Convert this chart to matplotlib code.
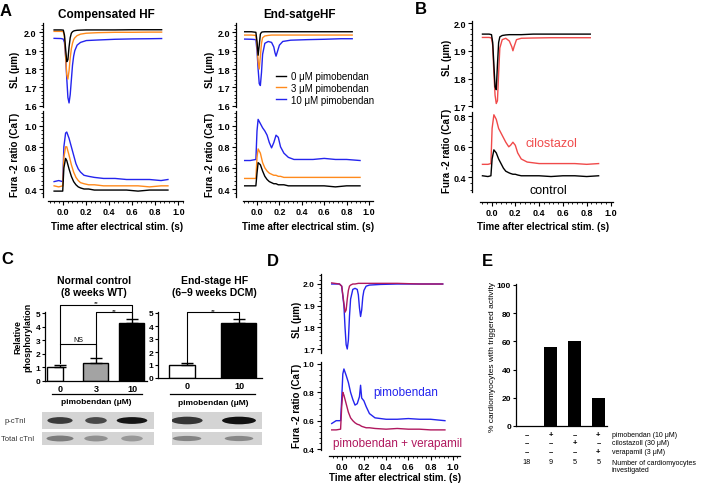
import numpy as np
import matplotlib
matplotlib.use("Agg")
import matplotlib.pyplot as plt
from matplotlib.ticker import MultipleLocator, FuncFormatter
from matplotlib.patches import Ellipse

plt.rcParams['font.family'] = ['Liberation Sans', 'DejaVu Sans']
plt.rcParams['font.weight'] = 'bold'
plt.rcParams['axes.linewidth'] = 0.9

##################################################################
############################ data ################################
##################################################################
# A - compensated HF, sarcomere length
t_sl_comp = [-0.08, -0.02, 0.0, 0.01, 0.02, 0.03, 0.04, 0.05, 0.06, 0.07, 0.08,
             0.09, 0.10, 0.12, 0.15, 0.20, 0.30, 0.45, 0.60, 0.75, 0.855]
sl_comp_0 = [2.013, 2.013, 2.012, 1.985, 1.91, 1.84, 1.85, 1.92, 1.97, 1.995, 2.003,
             2.007, 2.009, 2.011, 2.012, 2.013, 2.013, 2.013, 2.014, 2.014, 2.014]
sl_comp_3 = [2.005, 2.005, 2.004, 1.975, 1.87, 1.77, 1.745, 1.79, 1.86, 1.91, 1.94,
             1.96, 1.97, 1.982, 1.99, 1.995, 1.998, 2.0, 2.0, 2.001, 2.001]
sl_comp_10 = [1.967, 1.966, 1.963, 1.945, 1.87, 1.75, 1.645, 1.615, 1.66, 1.74, 1.82,
              1.87, 1.90, 1.93, 1.945, 1.955, 1.958, 1.962, 1.964, 1.965, 1.966]
# A - compensated HF, Fura-2
t_ca_comp = [-0.08, -0.04, -0.005, 0.005, 0.02, 0.03, 0.05, 0.07, 0.09, 0.11, 0.13,
             0.15, 0.18, 0.22, 0.27, 0.35, 0.45, 0.55, 0.65, 0.75, 0.85, 0.91]
ca_comp_0 = [0.38, 0.38, 0.38, 0.60, 0.69, 0.67, 0.59, 0.52, 0.47, 0.44, 0.42,
             0.41, 0.40, 0.40, 0.39, 0.39, 0.39, 0.39, 0.38, 0.39, 0.39, 0.39]
ca_comp_3 = [0.43, 0.42, 0.43, 0.70, 0.80, 0.80, 0.72, 0.63, 0.56, 0.51, 0.48,
             0.46, 0.45, 0.44, 0.44, 0.43, 0.43, 0.43, 0.43, 0.42, 0.43, 0.43]
ca_comp_10 = [0.47, 0.48, 0.47, 0.80, 0.93, 0.94, 0.88, 0.80, 0.72, 0.64, 0.59,
              0.56, 0.53, 0.52, 0.51, 0.50, 0.50, 0.49, 0.49, 0.49, 0.48, 0.49]

# A - end-stage HF, sarcomere length
t_sl_end = [-0.11, -0.05, -0.01, 0.0, 0.01, 0.02, 0.03, 0.04, 0.05, 0.07, 0.10, 0.13,
            0.15, 0.16, 0.17, 0.18, 0.20, 0.23, 0.30, 0.45, 0.60, 0.75, 0.85]
sl_end_0 = [2.003, 2.003, 2.0, 1.95, 1.875, 1.93, 1.99, 2.0, 2.002, 2.003, 2.003, 2.003,
            2.003, 2.003, 2.003, 2.003, 2.003, 2.003, 2.003, 2.003, 2.003, 2.003, 2.003]
sl_end_3 = [1.985, 1.985, 1.983, 1.93, 1.84, 1.80, 1.87, 1.94, 1.97, 1.98, 1.983, 1.985,
            1.985, 1.985, 1.985, 1.985, 1.985, 1.985, 1.985, 1.985, 1.985, 1.985, 1.985]
sl_end_10 = [1.963, 1.962, 1.96, 1.90, 1.80, 1.72, 1.71, 1.78, 1.88, 1.94, 1.95, 1.945,
             1.92, 1.89, 1.87, 1.89, 1.93, 1.95, 1.957, 1.96, 1.962, 1.965, 1.965]
# A - end-stage HF, Fura-2
t_ca_end = [-0.11, -0.06, -0.01, 0.0, 0.01, 0.03, 0.05, 0.07, 0.09, 0.11, 0.13, 0.15,
            0.17, 0.19, 0.21, 0.24, 0.28, 0.33, 0.40, 0.50, 0.60, 0.70, 0.80, 0.92]
ca_end_0 = [0.43, 0.43, 0.43, 0.55, 0.65, 0.63, 0.57, 0.52, 0.49, 0.47, 0.46, 0.45,
            0.45, 0.44, 0.44, 0.44, 0.43, 0.43, 0.43, 0.43, 0.43, 0.42, 0.43, 0.43]
ca_end_3 = [0.50, 0.50, 0.50, 0.70, 0.78, 0.74, 0.65, 0.60, 0.57, 0.55, 0.54, 0.53,
            0.53, 0.52, 0.52, 0.51, 0.51, 0.51, 0.51, 0.51, 0.51, 0.51, 0.51, 0.51]
ca_end_10 = [0.67, 0.67, 0.68, 0.95, 1.06, 1.02, 0.98, 0.95, 0.91, 0.84, 0.79, 0.84,
             0.91, 0.89, 0.80, 0.74, 0.70, 0.68, 0.68, 0.68, 0.69, 0.68, 0.68, 0.67]

# B - control vs cilostazol
t_sl_b = [-0.076, -0.02, 0.0, 0.01, 0.02, 0.03, 0.04, 0.05, 0.06, 0.07, 0.09, 0.12,
          0.15, 0.17, 0.18, 0.19, 0.21, 0.25, 0.35, 0.50, 0.65, 0.83]
sl_b_ctrl = [1.96, 1.96, 1.958, 1.93, 1.85, 1.77, 1.76, 1.85, 1.93, 1.95, 1.955, 1.957,
             1.958, 1.958, 1.958, 1.958, 1.958, 1.958, 1.96, 1.96, 1.96, 1.96]
sl_b_cilo = [1.948, 1.948, 1.946, 1.92, 1.82, 1.74, 1.71, 1.72, 1.82, 1.91, 1.94, 1.945,
             1.935, 1.915, 1.90, 1.915, 1.94, 1.945, 1.946, 1.947, 1.947, 1.947]
t_ca_b = [-0.076, -0.03, -0.005, 0.005, 0.02, 0.04, 0.06, 0.08, 0.10, 0.12, 0.145, 0.16,
          0.18, 0.20, 0.22, 0.25, 0.30, 0.40, 0.50, 0.60, 0.70, 0.80, 0.90]
ca_b_ctrl = [0.41, 0.405, 0.41, 0.52, 0.58, 0.56, 0.52, 0.49, 0.46, 0.44, 0.43, 0.425,
             0.42, 0.42, 0.415, 0.41, 0.41, 0.41, 0.405, 0.41, 0.41, 0.405, 0.41]
ca_b_cilo = [0.485, 0.485, 0.49, 0.72, 0.81, 0.78, 0.72, 0.69, 0.66, 0.63, 0.60, 0.61,
             0.63, 0.61, 0.56, 0.52, 0.50, 0.49, 0.49, 0.49, 0.49, 0.485, 0.49]

# C - relative phosphorylation of cTnI
wt_doses = ['0', '3', '10']
wt_phos = [1.0, 1.35, 4.25]
wt_err = [0.2, 0.35, 0.3]
dcm_doses = ['0', '10']
dcm_phos = [1.0, 4.25]
dcm_err = [0.12, 0.3]
# band darkness of the blots (0 = none, 1 = black)
wt_p_band = [0.72, 0.66, 0.9]
wt_tot_band = [0.42, 0.32, 0.28]
dcm_p_band = [0.75, 0.92]
dcm_tot_band = [0.38, 0.36]

# D - pimobendan vs pimobendan + verapamil
t_sl_d = [-0.09, -0.02, 0.0, 0.02, 0.03, 0.04, 0.05, 0.06, 0.07, 0.08, 0.10, 0.12, 0.14,
          0.15, 0.16, 0.17, 0.18, 0.19, 0.20, 0.22, 0.25, 0.35, 0.50, 0.70, 0.91]
sl_d_pimo = [2.0, 2.0, 1.99, 1.90, 1.80, 1.72, 1.70, 1.74, 1.85, 1.93, 1.975, 1.98, 1.975,
             1.95, 1.89, 1.85, 1.88, 1.94, 1.97, 1.99, 1.995, 1.998, 2.0, 2.0, 2.0]
sl_d_vera = [2.005, 2.0, 1.99, 1.91, 1.87, 1.88, 1.93, 1.97, 1.99, 1.995, 2.0, 2.0, 2.002,
             2.003, 2.003, 2.003, 2.003, 2.003, 2.003, 2.003, 2.003, 2.003, 2.003, 2.0, 2.0]
t_ca_d = [-0.09, -0.05, -0.01, 0.0, 0.01, 0.02, 0.04, 0.06, 0.08, 0.10, 0.12, 0.14, 0.16,
          0.17, 0.18, 0.20, 0.22, 0.25, 0.30, 0.40, 0.50, 0.60, 0.70, 0.80, 0.93]
ca_d_pimo = [0.58, 0.60, 0.60, 0.75, 0.93, 0.965, 0.92, 0.87, 0.80, 0.75, 0.71, 0.72, 0.77,
             0.85, 0.76, 0.74, 0.70, 0.65, 0.62, 0.61, 0.61, 0.615, 0.61, 0.61, 0.60]
ca_d_vera = [0.535, 0.535, 0.54, 0.70, 0.80, 0.78, 0.72, 0.66, 0.62, 0.60, 0.585, 0.575, 0.57,
             0.565, 0.56, 0.555, 0.55, 0.55, 0.545, 0.54, 0.545, 0.54, 0.54, 0.535, 0.535]

# E - triggered activity
e_pct = [0, 56, 60, 20]
e_pimo = ['–', '+', '–', '+']
e_cilo = ['–', '–', '+', '–']
e_vera = ['–', '–', '–', '+']
e_n = ['18', '9', '5', '5']
e_rows = ['pimobendan (10 \u03bcM)', 'cilostazoll (30 \u03bcM)', 'verapamil (3 \u03bcM)']

BLACK = '#000000'
ORANGE = '#ff8a1c'
BLUE = '#2424ee'
RED = '#f04a4a'
PURPLE = '#b0185e'

##################################################################
############################ figure ##############################
##################################################################
W, H = 708, 485
fig = plt.figure(figsize=(W / 100, H / 100), dpi=100)


def add_ax(l, t, r, b):
    # axes from pixel box (left, top, right, bottom)
    ax = fig.add_axes([l / W, 1 - b / H, (r - l) / W, (b - t) / H])
    ax.patch.set_visible(False)
    return ax


def ftext(x, y, s, **kw):
    fig.text(x / W, 1 - y / H, s, **kw)


fmt1 = FuncFormatter(lambda v, p: ('%.1f' % (v + 0.0)).replace('-0.0', '0.0'))


def trace_axes(l, r, top, bot, x0, sx, ref, ref_px, ppu, major, minor, fs=6.5):
    ax = add_ax(l, top, r, bot)
    ax.set_xlim((l - x0) / sx, (r - x0) / sx)
    ax.set_ylim(ref - (bot - ref_px) / ppu, ref + (ref_px - top) / ppu)
    for s in ['top', 'right', 'bottom']:
        ax.spines[s].set_visible(False)
    ax.set_xticks([])
    ax.yaxis.set_major_locator(MultipleLocator(major))
    ax.yaxis.set_minor_locator(MultipleLocator(minor))
    ax.yaxis.set_major_formatter(fmt1)
    ax.tick_params(axis='y', which='major', length=3, width=0.8, labelsize=fs, pad=1.5)
    ax.tick_params(axis='y', which='minor', length=1.5, width=0.6)
    return ax


def time_axis(l, r, y, x0, sx):
    ax = add_ax(l, y - 8, r, y)
    ax.set_xlim((l - x0) / sx, (r - x0) / sx)
    for s in ['top', 'right', 'left']:
        ax.spines[s].set_visible(False)
    ax.set_yticks([])
    ax.xaxis.set_major_locator(MultipleLocator(0.2))
    ax.xaxis.set_minor_locator(MultipleLocator(0.04))
    ax.xaxis.set_major_formatter(fmt1)
    ax.tick_params(axis='x', which='major', length=3, width=0.8, labelsize=6.5, pad=1.5)
    ax.tick_params(axis='x', which='minor', length=1.5, width=0.6)
    return ax


lw = 1.0

# ---------------- A: compensated HF ----------------
ax = trace_axes(43, 183, 24, 108, 63.3, 115, 2.0, 33.3, 183.5, 0.1, 0.02)
ax.plot(t_sl_comp, sl_comp_10, color=BLUE, lw=lw)
ax.plot(t_sl_comp, sl_comp_3, color=ORANGE, lw=lw)
ax.plot(t_sl_comp, sl_comp_0, color=BLACK, lw=lw)
ax = trace_axes(43, 183, 112, 198, 63.3, 115, 1.0, 126.7, 105.5, 0.2, 0.04)
ax.plot(t_ca_comp, ca_comp_10, color=BLUE, lw=lw)
ax.plot(t_ca_comp, ca_comp_3, color=ORANGE, lw=lw)
ax.plot(t_ca_comp, ca_comp_0, color=BLACK, lw=lw)
time_axis(48, 183, 202, 63.3, 115)

# ---------------- A: end-stage HF ----------------
ax = trace_axes(236, 373, 24, 108, 257, 112, 2.0, 33.3, 183.5, 0.1, 0.02)
ax.plot(t_sl_end, sl_end_10, color=BLUE, lw=lw, label='10 \u03bcM pimobendan')
ax.plot(t_sl_end, sl_end_3, color=ORANGE, lw=lw, label='3 \u03bcM pimobendan')
ax.plot(t_sl_end, sl_end_0, color=BLACK, lw=lw, label='0 \u03bcM pimobendan')
h, lab = ax.get_legend_handles_labels()
ax.legend(h[::-1], lab[::-1], loc='upper left', bbox_to_anchor=(276 / W, 1 - 72 / H),
          bbox_transform=fig.transFigure, frameon=False,
          prop={'size': 7, 'weight': 'normal'}, handlelength=1.05, handletextpad=0.5,
          labelspacing=0.18, borderpad=0, borderaxespad=0)
ax = trace_axes(236, 373, 112, 198, 257, 112, 1.0, 126.7, 105.5, 0.2, 0.04)
ax.plot(t_ca_end, ca_end_10, color=BLUE, lw=lw)
ax.plot(t_ca_end, ca_end_3, color=ORANGE, lw=lw)
ax.plot(t_ca_end, ca_end_0, color=BLACK, lw=lw)
time_axis(243, 373, 202, 257, 112)

ftext(6, 12, 'A', fontsize=12, ha='center', va='center')
ftext(106, 15, 'Compensated HF', fontsize=8.5, ha='center', va='center')
ftext(300, 15, 'End-satgeHF', fontsize=8.5, ha='center', va='center')
for x in [15, 210]:
    ftext(x, 70, 'SL (\u03bcm)', fontsize=7, rotation=90, ha='center', va='center')
    ftext(x, 155, 'Fura -2 ratio (CaT)', fontsize=7, rotation=90, ha='center', va='center')
ftext(117, 227, 'Time after electrical stim. (s)', fontsize=7, ha='center', va='center')
ftext(308, 227, 'Time after electrical stim. (s)', fontsize=7, ha='center', va='center')

# ---------------- B ----------------
ax = trace_axes(472, 613, 21.7, 108.3, 491.5, 119, 2.0, 24, 277.7, 0.1, 0.02)
ax.plot(t_sl_b, sl_b_cilo, color=RED, lw=lw)
ax.plot(t_sl_b, sl_b_ctrl, color=BLACK, lw=lw)
ax = trace_axes(472, 613, 112.7, 193.3, 491.5, 119, 0.8, 117.3, 152.5, 0.2, 0.04)
ax.plot(t_ca_b, ca_b_cilo, color=RED, lw=lw)
ax.plot(t_ca_b, ca_b_ctrl, color=BLACK, lw=lw)
time_axis(480, 613, 203, 491.5, 119)
ftext(421, 10, 'B', fontsize=12, ha='center', va='center')
ftext(447, 58, 'SL (\u03bcm)', fontsize=7, rotation=90, ha='center', va='center')
ftext(447, 151, 'Fura -2 ratio (CaT)', fontsize=7, rotation=90, ha='center', va='center')
ftext(525, 144, 'cilostazol', fontsize=9, color=RED, fontweight='normal', va='center')
ftext(529, 191, 'control', fontsize=9, color=BLACK, fontweight='normal', va='center')
ftext(543, 227, 'Time after electrical stim. (s)', fontsize=7, ha='center', va='center')

# ---------------- C ----------------
def bracket(ax, x1, x2, y, y1, y2, label, ly, fs=5):
    ax.plot([x1, x1, x2, x2], [y1, y, y, y2], color='k', lw=0.8, clip_on=False)
    ax.text((x1 + x2) / 2, ly, label, ha='center', va='bottom', fontsize=fs,
            fontweight='normal')


def bar_axes(l, r, top, bot, c0, cs, ppu):
    ax = add_ax(l, top, r, bot)
    ax.set_xlim((l - c0) / cs, (r - c0) / cs)
    ax.set_ylim(0, (bot - top) / ppu)
    for s in ['top', 'right']:
        ax.spines[s].set_visible(False)
    ax.yaxis.set_major_locator(MultipleLocator(1))
    ax.tick_params(axis='y', length=2.5, width=0.8, labelsize=6, pad=1)
    ax.tick_params(axis='x', length=0, labelsize=6.5, pad=2.5)
    return ax


ax = bar_axes(45, 147, 313, 381.7, 60, 36, 13.48)
xs = np.arange(len(wt_phos))
ax.bar(xs - 0.36, wt_phos, width=[0.44, 0.68, 0.68], align='edge',
       color=['white', '#a3a3a3', 'black'], edgecolor='black', linewidth=1)
ax.errorbar(xs, wt_phos, yerr=[np.zeros(len(wt_err)), wt_err], fmt='none',
            ecolor='black', elinewidth=1, capsize=4, capthick=1)
ax.set_xticks(xs, wt_doses)
bracket(ax, 0, 1, 2.72, 1.3, 1.78, 'NS', 2.78)
bracket(ax, 0, 2, 5.62, 2.72, 4.62, '**', 5.58, fs=4.5)
bracket(ax, 1, 2, 5.07, 1.78, 4.62, '**', 5.03, fs=4.5)
tr = ax.get_xaxis_transform()
ax.plot([-0.23, 2.27], [-0.194, -0.194], color='k', lw=0.9, transform=tr, clip_on=False)
ax.text(1.0, -0.31, 'pimobendan (\u03bcM)', transform=tr, ha='center', va='center', fontsize=6)

ax = bar_axes(158.3, 262, 313, 379, 187, 52, 13.0)
xs = np.arange(len(dcm_phos))
ax.bar(xs - 0.34, dcm_phos, width=[0.5, 0.66], align='edge',
       color=['white', 'black'], edgecolor='black', linewidth=1)
ax.errorbar(xs, dcm_phos, yerr=[np.zeros(len(dcm_err)), dcm_err], fmt='none',
            ecolor='black', elinewidth=1, capsize=4.5, capthick=1)
ax.set_xticks(xs, dcm_doses)
bracket(ax, 0, 1, 5.05, 1.2, 4.62, '**', 5.03, fs=4.5)
tr = ax.get_xaxis_transform()
ax.plot([-0.33, 1.31], [-0.235, -0.235], color='k', lw=0.9, transform=tr, clip_on=False)
ax.text(0.5, -0.364, 'pimobendan (\u03bcM)', transform=tr, ha='center', va='center', fontsize=6)


def blot(l, t, r, b, c0, cs, dark, widths, hgt):
    ax = add_ax(l, t, r, b)
    ax.patch.set_visible(True)
    ax.set_facecolor('#d4d4d4')
    ax.set_xlim((l - c0) / cs, (r - c0) / cs)
    ax.set_ylim(0, 1)
    ax.set_xticks([])
    ax.set_yticks([])
    for s in ax.spines.values():
        s.set_visible(False)
    for i, d in enumerate(dark):
        g = 0.83 * (1 - d)
        ax.add_patch(Ellipse((i, 0.5), widths[i], hgt, color=(g, g, g), lw=0))
    return ax


blot(41.7, 413, 154, 430, 60, 36, wt_p_band, [0.7, 0.6, 0.85], 0.4)
blot(41.7, 433, 154, 446, 60, 36, wt_tot_band, [0.75, 0.65, 0.6], 0.45)
blot(171.7, 413, 261.7, 430, 187, 52, dcm_p_band, [0.6, 0.65], 0.45)
blot(171.7, 433, 261.7, 446, 187, 52, dcm_tot_band, [0.55, 0.55], 0.4)
ftext(15, 422, 'p-cTnI', fontsize=5.5, fontweight='normal', color='#333333', ha='center', va='center')
ftext(18, 439.5, 'Total cTnI', fontsize=5.5, fontweight='normal', color='#333333', ha='center', va='center')

ftext(7.5, 259, 'C', fontsize=12, ha='center', va='center')
ftext(94, 281, 'Normal control', fontsize=7.5, ha='center', va='center')
ftext(94, 293.5, '(8 weeks WT)', fontsize=7.5, ha='center', va='center')
ftext(215, 281, 'End-stage HF', fontsize=7.5, ha='center', va='center')
ftext(214, 293.5, '(6\u20139 weeks DCM)', fontsize=7.5, ha='center', va='center')
ftext(23, 337, 'Relative\nphosphorylation', fontsize=6.3, rotation=90, ha='center',
      va='center', linespacing=1.1)

# ---------------- D ----------------
ax = trace_axes(321, 460, 275, 354, 341.7, 111, 2.0, 285, 216.7, 0.1, 0.02, fs=6)
ax.plot(t_sl_d, sl_d_pimo, color=BLUE, lw=lw)
ax.plot(t_sl_d, sl_d_vera, color=PURPLE, lw=lw)
ax = trace_axes(321, 460, 363.3, 451, 341.7, 111, 1.0, 365, 141.7, 0.2, 0.04, fs=6)
ax.plot(t_ca_d, ca_d_pimo, color=BLUE, lw=lw)
ax.plot(t_ca_d, ca_d_vera, color=PURPLE, lw=lw)
time_axis(329, 460, 457, 341.7, 111)
ftext(272.5, 261, 'D', fontsize=12, ha='center', va='center')
ftext(297, 320, 'SL (\u03bcm)', fontsize=7, rotation=90, ha='center', va='center')
ftext(297, 406, 'Fura -2 ratio (CaT)', fontsize=7, rotation=90, ha='center', va='center')
ftext(373, 393, 'pimobendan', fontsize=8.5, color=BLUE, fontweight='normal', va='center')
ftext(333, 444, 'pimobendan + verapamil', fontsize=8.5, color=PURPLE, fontweight='normal', va='center')
ftext(395, 478, 'Time after electrical stim. (s)', fontsize=7, ha='center', va='center')

# ---------------- E ----------------
ax = add_ax(516, 285, 607, 427)
ax.set_xlim((516 - 527) / 23.8, (607 - 527) / 23.8)
ax.set_ylim(0, 142 / 1.41)
for s in ['top', 'right']:
    ax.spines[s].set_visible(False)
xs = np.arange(len(e_pct))
ax.bar(xs, e_pct, width=0.53, color='black')
ax.set_xticks([])
ax.yaxis.set_major_locator(MultipleLocator(20))
ax.tick_params(axis='y', length=2.5, width=0.8, labelsize=6, pad=1)
tr = ax.get_xaxis_transform()
row_px = [436, 444, 452.3]
for row_y, signs in zip(row_px, [e_pimo, e_cilo, e_vera]):
    for i, s in enumerate(signs):
        ax.text(i, (427 - row_y) / 142, s, transform=tr, ha='center', va='center',
                fontsize=5.5, fontweight='bold')
for i, n in enumerate(e_n):
    ax.text(i, (427 - 462.7) / 142, n, transform=tr, ha='center', va='center',
            fontsize=5.2, fontweight='normal')
for row_y, lab in zip(row_px, e_rows):
    ax.text(3.56, (427 - row_y) / 142, lab, transform=tr, ha='left', va='center',
            fontsize=5, fontweight='normal')
ax.text(3.56, (427 - 466.8) / 142, 'Number of cardiomyocytes\ninvestigated', transform=tr,
        ha='left', va='center', fontsize=5, fontweight='normal', linespacing=1.0)
ftext(487.5, 261, 'E', fontsize=12, ha='center', va='center')
ftext(492, 357, '% cardiomyocytes with triggered activity', fontsize=6, rotation=90,
      fontweight='normal', ha='center', va='center')

fig.savefig('out.png', dpi=100)
